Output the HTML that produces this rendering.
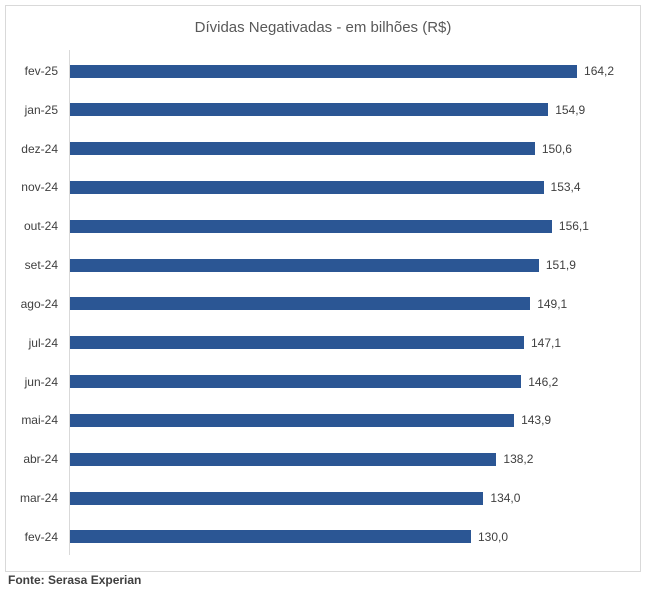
<!DOCTYPE html>
<html><head><meta charset="utf-8"><style>
body{margin:0;background:#fff;width:664px;height:598px;position:relative;font-family:"Liberation Sans",sans-serif;overflow:hidden}
.frame{position:absolute;left:5px;top:5px;width:636px;height:567px;border:1px solid #d9d9d9;box-sizing:border-box}
.title{position:absolute;left:0;width:646px;top:19px;text-align:center;font-size:15px;color:#595959}
.axis{position:absolute;left:69px;top:50px;width:1px;height:505px;background:#d9d9d9}
.bar{position:absolute;left:70px;height:13px;background:#2b5694}
.lab{position:absolute;right:606px;font-size:12px;color:#404040;text-align:right;white-space:nowrap}
.val{position:absolute;font-size:12px;color:#404040}
.src{position:absolute;left:8px;top:573px;font-size:12px;font-weight:bold;color:#404040}
</style></head><body>
<div class="frame"></div>
<div class="title">Dívidas Negativadas - em bilhões (R$)</div>
<div class="axis"></div>
<div id="c"></div>
<div class="src">Fonte: Serasa Experian</div>
<script>
var d=[["fev-25",164.2],["jan-25",154.9],["dez-24",150.6],["nov-24",153.4],["out-24",156.1],["set-24",151.9],["ago-24",149.1],["jul-24",147.1],["jun-24",146.2],["mai-24",143.9],["abr-24",138.2],["mar-24",134.0],["fev-24",130.0]];
var h="";
d.forEach(function(r,i){var cy=71+i*38.83;var w=r[1]*3.1-2;
h+='<div class="bar" style="top:'+(cy-6.5)+'px;width:'+w+'px"></div>';
h+='<div class="lab" style="top:'+(cy-7)+'px">'+r[0]+'</div>';
h+='<div class="val" style="top:'+(cy-7)+'px;left:'+(70+w+7)+'px">'+r[1].toFixed(1).replace(".",",")+'</div>';});
document.getElementById("c").innerHTML=h;
</script>
</body></html>
